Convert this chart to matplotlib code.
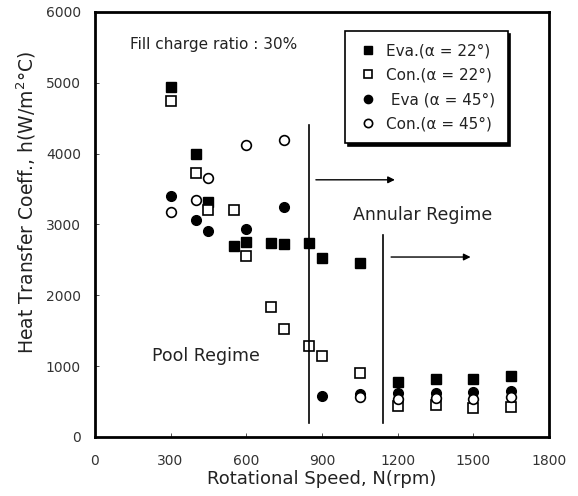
import numpy as np
import matplotlib
matplotlib.use("Agg")
import matplotlib.pyplot as plt

plt.rcParams['font.family'] = ['DejaVu Sans']

# Eva. (alpha = 22)
n_eva22 = [300, 400, 450, 550, 600, 700, 750, 850, 900, 1050, 1200, 1350, 1500, 1650]
h_eva22 = [4940, 4000, 3320, 2700, 2750, 2740, 2720, 2740, 2530, 2460, 770, 815, 815, 860]
# Con. (alpha = 22)
n_con22 = [300, 400, 450, 550, 600, 700, 750, 850, 900, 1050, 1200, 1350, 1500, 1650]
h_con22 = [4740, 3720, 3200, 3200, 2560, 1830, 1520, 1280, 1140, 910, 440, 450, 405, 430]
# Eva (alpha = 45)
n_eva45 = [300, 400, 450, 600, 750, 900, 1050, 1200, 1350, 1500, 1650]
h_eva45 = [3400, 3060, 2910, 2930, 3240, 580, 610, 620, 620, 630, 650]
# Con. (alpha = 45)
n_con45 = [300, 400, 450, 600, 750, 1050, 1200, 1350, 1500, 1650]
h_con45 = [3170, 3350, 3650, 4120, 4190, 570, 530, 545, 530, 560]

fig = plt.figure(figsize=(5.78, 4.96), dpi=100)
ax = fig.add_axes([0.164, 0.119, 0.786, 0.857])

ms = 7
ax.plot(n_eva22, h_eva22, 's', ms=ms, mfc='black', mec='black', label='Eva.(\u03b1 = 22\u00b0)')
ax.plot(n_con22, h_con22, 's', ms=ms, mfc='white', mec='black', mew=1.2, label='Con.(\u03b1 = 22\u00b0)')
ax.plot(n_eva45, h_eva45, 'o', ms=ms, mfc='black', mec='black', label=' Eva (\u03b1 = 45\u00b0)')
ax.plot(n_con45, h_con45, 'o', ms=ms, mfc='white', mec='black', mew=1.2, label='Con.(\u03b1 = 45\u00b0)')

# regime boundaries
ax.plot([850, 850], [200, 4400], color='black', lw=1.2)
ax.plot([1140, 1140], [200, 2850], color='black', lw=1.2)
ax.annotate('', xy=(1200, 3630), xytext=(865, 3630),
            arrowprops=dict(arrowstyle='-|>', color='black', lw=1, mutation_scale=10))
ax.annotate('', xy=(1500, 2540), xytext=(1163, 2540),
            arrowprops=dict(arrowstyle='-|>', color='black', lw=1, mutation_scale=10))

ax.text(1298, 3135, 'Annular Regime', fontsize=12.5, ha='center', va='center', color='#222222')
ax.text(440, 1150, 'Pool Regime', fontsize=12.5, ha='center', va='center', color='#222222')
ax.text(140, 5535, 'Fill charge ratio : 30%', fontsize=11, ha='left', va='center', color='#222222')

ax.set_xlim(0, 1800)
ax.set_ylim(0, 6000)
ax.set_xticks(np.arange(0, 1801, 300))
ax.set_yticks(np.arange(0, 6001, 1000))
ax.tick_params(direction='in', length=3, width=0.6, labelsize=10, pad=10, colors='#333333')
ax.tick_params(axis='x', pad=12)
for s in ax.spines.values():
    s.set_linewidth(2)

ax.set_xlabel('Rotational Speed, N(rpm)', fontsize=13, color='#222222', labelpad=2)
ax.set_ylabel('Heat Transfer Coeff., h(W/m$^2$\u00b0C)', fontsize=13.5, color='#222222')
ax.yaxis.set_label_coords(-0.125, 0.553)

leg = ax.legend(loc='upper left', bbox_to_anchor=(0.551, 0.954), borderaxespad=0,
                frameon=True, fancybox=False,
                shadow={'color': 'black', 'alpha': 1}, edgecolor='black', fontsize=11,
                handletextpad=0.5, borderpad=0.8, labelspacing=0.6, handlelength=1.4,
                markerscale=0.85)
leg.get_frame().set_linewidth(1.2)
for t in leg.get_texts():
    t.set_color('#222222')

fig.savefig('out.png', dpi=100)
